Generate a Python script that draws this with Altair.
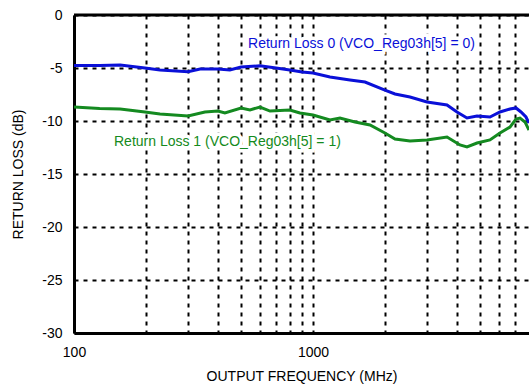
import altair as alt
import pandas as pd

# Return Loss 0 (blue)
freq0 = [100, 128, 156, 198, 229, 300, 337, 400, 449, 500, 600, 700, 800, 900, 1000,
         1178, 1428, 1651, 2000, 2204, 2546, 3000, 3637, 4004, 4410, 4857, 5503,
         6059, 6673, 7070, 7420, 7785, 8015]
rl0 = [-4.76, -4.76, -4.72, -5.0, -5.19, -5.35, -5.09, -5.09, -5.19, -4.9, -4.8, -5.0,
       -5.19, -5.38, -5.47, -5.85, -6.13, -6.32, -7.08, -7.45, -7.74, -8.21, -8.49,
       -9.15, -9.72, -9.53, -9.62, -9.15, -8.87, -8.77, -9.15, -9.62, -10.19]

# Return Loss 1 (green)
freq1 = [100, 128, 156, 198, 229, 300, 353, 400, 428, 500, 545, 600, 661, 800, 882,
         1000, 1178, 1297, 1499, 1732, 2000, 2204, 2546, 3000, 3637, 4121, 4410,
         4857, 5503, 6059, 6673, 7070, 7347, 7710, 8015]
rl1 = [-8.68, -8.82, -8.87, -9.15, -9.34, -9.53, -9.15, -9.06, -9.25, -8.77, -8.96,
       -8.68, -9.06, -8.96, -9.25, -9.43, -9.91, -9.72, -10.09, -10.38, -11.13, -11.7,
       -11.89, -11.79, -11.51, -12.26, -12.45, -12.08, -11.79, -11.13, -10.57, -9.81,
       -9.72, -10.09, -10.85]

x_ticks = [100, 200, 300, 400, 500, 600, 700, 800, 900, 1000,
           2000, 3000, 4000, 5000, 6000, 7000]
x_labels = [100, 1000]
y_ticks = [-30, -25, -20, -15, -10, -5, 0]

labels = ["Return Loss 0 (VCO_Reg03h[5] = 0)", "Return Loss 1 (VCO_Reg03h[5] = 1)"]
label_freq = [535, 147]
label_db = [-2.74, -11.98]
colors = ["#0a10d8", "#148a20"]
text_colors = ["#1a22e0", "#2a8a30"]

FONT = "Liberation Sans"

df = pd.concat([
    pd.DataFrame({"f": freq0, "rl": rl0, "s": labels[0]}),
    pd.DataFrame({"f": freq1, "rl": rl1, "s": labels[1]}),
])
ldf = pd.DataFrame({"f": label_freq, "rl": label_db, "s": labels})

xscale = alt.Scale(type="log", domain=[100, 8015], nice=False)
yscale = alt.Scale(domain=[-30, 0], nice=False)

lab_expr = "(" + " || ".join(f"datum.value == {v}" for v in x_labels) + ") ? format(datum.value, 'd') : ''"

xaxis = alt.Axis(values=x_ticks, labelExpr=lab_expr, title="OUTPUT FREQUENCY (MHz)",
                 grid=True, gridDash=[4, 5], gridColor="black", gridWidth=2, gridOpacity=1,
                 domainColor="black", domainWidth=3, ticks=False, labelPadding=12,
                 labelFlush=False, labelFont=FONT, labelFontSize=14, labelColor="black",
                 titleFont=FONT, titleFontSize=14, titleFontWeight="normal", titleColor="black",
                 titlePadding=10)
yaxis = alt.Axis(values=y_ticks, labelExpr="'' + datum.value", title="RETURN LOSS (dB)",
                 grid=True, gridDash=[4, 5], gridColor="black", gridWidth=2, gridOpacity=1,
                 domainColor="black", domainWidth=3, ticks=False, labelPadding=12,
                 labelFont=FONT, labelFontSize=14, labelColor="black",
                 titleFont=FONT, titleFontSize=14, titleFontWeight="normal", titleColor="black",
                 titlePadding=16)

lines = alt.Chart(df).mark_line(strokeWidth=3, clip=True).encode(
    x=alt.X("f:Q", scale=xscale, axis=xaxis),
    y=alt.Y("rl:Q", scale=yscale, axis=yaxis),
    color=alt.Color("s:N", scale=alt.Scale(domain=labels, range=colors), legend=None),
    order="f:Q",
)

top = alt.Chart(pd.DataFrame({"y": [y_ticks[-1]]})).mark_rule(color="black", strokeWidth=3).encode(
    y=alt.Y("y:Q", scale=yscale),
)

halo = alt.Chart(ldf).mark_text(align="left", baseline="middle", font=FONT, fontSize=14,
                                color="white", stroke="white", strokeWidth=7).encode(
    x=alt.X("f:Q", scale=xscale),
    y=alt.Y("rl:Q", scale=yscale),
    text="s:N",
)

texts = alt.Chart(ldf).mark_text(align="left", baseline="middle", font=FONT, fontSize=14).encode(
    x=alt.X("f:Q", scale=xscale),
    y=alt.Y("rl:Q", scale=yscale),
    text="s:N",
    color=alt.Color("s:N", scale=alt.Scale(domain=labels, range=text_colors), legend=None),
)

chart = alt.layer(halo, lines, top, texts).properties(
    width=455, height=318,
    autosize=alt.AutoSizeParams(type="none"),
    padding={"left": 74, "top": 15, "right": 0, "bottom": 54},
    background="white",
).configure_view(stroke=None)

chart.save("out.html", embed_options={"renderer": "svg", "actions": False})
